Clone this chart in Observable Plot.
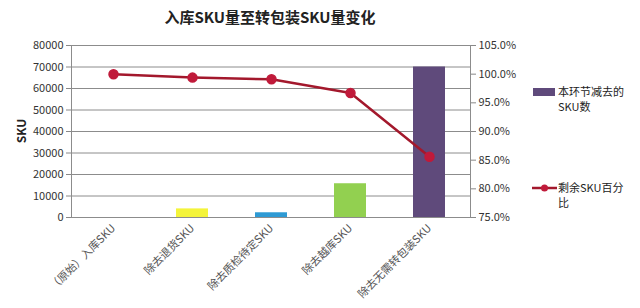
<!DOCTYPE html>
<html>
<head>
<meta charset="utf-8">
<script src="https://cdn.jsdelivr.net/npm/d3@7"></script>
<script src="https://cdn.jsdelivr.net/npm/@observablehq/plot@0.6"></script>
<style>
  html, body { margin: 0; padding: 0; background: #fff; }
  #chart { width: 640px; height: 308px; }
</style>
</head>
<body>
<div id="chart"></div>
<script>
const categories = ["（原始）入库SKU", "除去退货SKU", "除去质检待定SKU", "除去越库SKU", "除去无需转包装SKU"];
const removedSku = [0, 4000, 2200, 15700, 70000];
const remainingPct = [100.0, 99.4, 99.1, 96.7, 85.6];
const barColors = ["#ffffff", "#f4f43a", "#2e9ad4", "#92d050", "#5f4a7b"];
const leftTicks = [0, 10000, 20000, 30000, 40000, 50000, 60000, 70000, 80000];
const rightTicks = [75, 80, 85, 90, 95, 100, 105];
const titleText = "入库SKU量至转包装SKU量变化";
const yLabel = "SKU";
const legendBar = ["本环节减去的", "SKU数"];
const legendLine = ["剩余SKU百分", "比"];

const leftMax = 80000, pctMin = 75, pctMax = 105;
const pctToLeft = p => (p - pctMin) / (pctMax - pctMin) * leftMax;

const rows = categories.map((c, i) => ({cat: c, removed: removedSku[i], pct: remainingPct[i], color: barColors[i]}));

const cjk = "'Noto Sans CJK SC', 'Noto Sans', sans-serif";

const plot = Plot.plot({
  width: 640,
  height: 308,
  marginLeft: 71,
  marginRight: 170,
  marginTop: 45,
  marginBottom: 91,
  style: {fontFamily: cjk, fontSize: "11px", color: "#333", background: "#fff"},
  x: {type: "band", domain: categories, paddingInner: 0.6, paddingOuter: 0.3, label: null},
  y: {domain: [0, leftMax], label: null},
  marks: [
    Plot.ruleY(leftTicks, {stroke: "#8c8c8c", strokeWidth: 1}),
    Plot.barY(rows, {x: "cat", y: "removed", fill: "color"}),
    Plot.line(rows, {x: "cat", y: d => pctToLeft(d.pct), stroke: "#a3182c", strokeWidth: 2.5}),
    Plot.dot(rows, {x: "cat", y: d => pctToLeft(d.pct), r: 4.5, fill: "#c01a3a", stroke: "#c01a3a"}),
    Plot.axisY(leftTicks, {anchor: "left", tickSize: 5, tickPadding: 3, stroke: "#888", fill: "#333", tickFormat: d => String(d), fontSize: 11}),
    Plot.axisY(rightTicks.map(pctToLeft), {anchor: "right", tickSize: 5, tickPadding: 3, stroke: "#888", fill: "#333", tickFormat: (d, i) => rightTicks[i].toFixed(1) + "%", fontSize: 11}),
    Plot.axisX({tickSize: 0, tickRotate: -45, tickPadding: 9, fill: "#555", fontSize: 11}),
    Plot.ruleY([0], {stroke: "#8c8c8c"}),
    Plot.frame({anchor: "left", stroke: "#8c8c8c"}),
    Plot.frame({anchor: "right", stroke: "#8c8c8c"})
  ]
});

document.getElementById("chart").appendChild(plot);

const svg = d3.select(plot);
svg.append("text")
  .attr("x", 270).attr("y", 23)
  .attr("text-anchor", "middle")
  .attr("font-family", cjk)
  .attr("font-weight", "bold")
  .attr("font-size", 15)
  .attr("fill", "#222")
  .text(titleText);

svg.append("text")
  .attr("transform", "translate(26,131) rotate(-90)")
  .attr("text-anchor", "middle")
  .attr("font-family", cjk)
  .attr("font-weight", "bold")
  .attr("font-size", 12)
  .attr("fill", "#222")
  .text(yLabel);

// legend
const lg = svg.append("g").attr("font-family", cjk).attr("font-size", 11).attr("fill", "#222").attr("text-anchor", "start");
lg.append("rect").attr("x", 533).attr("y", 88).attr("width", 22).attr("height", 8).attr("fill", barColors[4]);
legendBar.forEach((t, i) => lg.append("text").attr("x", 558).attr("y", 96 + i * 15).text(t));
lg.append("line").attr("x1", 532).attr("x2", 557).attr("y1", 188).attr("y2", 188).attr("stroke", "#a3182c").attr("stroke-width", 2.5);
lg.append("circle").attr("cx", 544.5).attr("cy", 188).attr("r", 3.5).attr("fill", "#c01a3a");
legendLine.forEach((t, i) => lg.append("text").attr("x", 558).attr("y", 192 + i * 15).text(t));
</script>
</body>
</html>
